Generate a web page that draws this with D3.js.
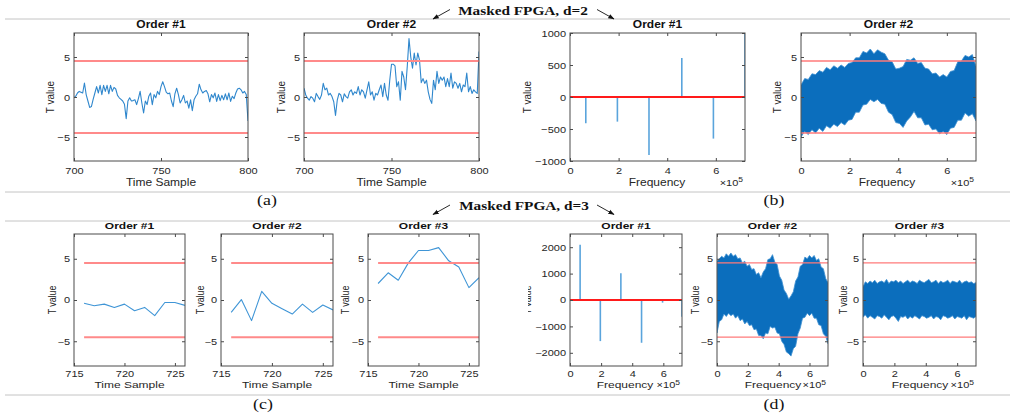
<!DOCTYPE html>
<html><head><meta charset="utf-8">
<script src="https://cdn.jsdelivr.net/npm/d3@7"></script>
<style>
body{margin:0;background:#fff}
svg{display:block}
</style>
</head><body>
<svg id="c" width="1014" height="414"></svg>
<script>
// ---------------- DATA ----------------
const timeA = d3.range(700, 801);
const tA1 = [-0.1,0.1,0.5,0.7,0.6,0.5,1.75,0.3,-0.5,-1.3,
  -1.2,-0.3,0.5,1.3,0.5,1.45,0.3,1.45,0.7,1.45,
  0.4,1.45,0.7,1.2,1.0,0.2,-0.1,-0.3,-0.5,-0.9,
  -2.7,-0.5,-0.1,-0.5,-0.45,-0.35,-0.95,-0.2,0.7,-0.75,
  -2.0,-0.5,-0.95,0.1,0.5,-0.95,0.3,-0.1,0.7,0.3,
  1.3,1.9,1.3,0.6,0.4,0.5,-0.5,-1.2,0.4,1.1,
  0.3,-0.75,-0.35,0.2,-0.75,-0.5,-1.4,-0.35,-1.7,-0.35,
  0.1,0.4,1.6,0.9,0.5,0.7,0.8,0.4,-0.6,0.3,
  -0.1,0.5,-0.55,0.3,-0.45,0.2,-0.35,0.4,-0.35,0.5,
  -0.55,0.1,-0.2,0.5,1.0,1.1,0.9,0.5,0.7,0.3,
  -3.0];
const tA2 = [1.1,0.25,-0.15,-0.4,0.05,-0.15,-0.6,0.45,0.05,-0.3,
  0.25,1.7,0.9,1.1,0.25,0.45,0.05,-0.6,-2.3,-0.4,
  0.45,0.25,-0.6,0.4,0.05,-0.15,0.65,0.9,0.25,0.65,
  0.45,1.3,0.25,0.9,0.65,-0.15,0.9,1.9,0.25,0.65,
  -0.4,0.45,0.25,0.9,1.5,0.05,1.7,0.25,-0.4,2.1,
  4.1,4.1,3.9,1.3,1.9,-0.4,3.2,2.5,0.9,3.8,
  7.3,5.0,3.6,5.5,4.0,5.5,4.6,1.8,2.3,1.7,
  2.1,0.65,-0.3,-0.8,2.1,0.9,3.2,1.7,2.5,2.1,
  2.5,1.3,2.3,1.3,3.0,1.1,1.9,1.7,1.1,1.7,
  0.65,1.5,1.3,3.0,0.65,1.3,0.45,0.9,0.65,0.45,
  5.7];

const timeC = [716,717,718,719,720,721,722,723,724,725,726];
const tC1 = [-0.4,-0.7,-0.5,-0.9,-0.5,-1.3,-0.9,-1.9,-0.3,-0.3,-0.65];
const tC2 = [-1.5,0.05,-2.5,1.05,-0.4,-1.05,-1.7,-0.5,-1.5,-0.6,-1.2];
const tC3 = [2.0,3.3,2.4,4.5,6.0,6.0,6.35,4.75,4.0,1.5,2.7];

// frequencies in units of 1e5
const fB1 = [0.65,1.95,3.25,4.6,5.9,7.2];
const vB1 = [-410,-385,-905,610,-650,1000];
const fD1 = [0.65,1.95,3.27,4.6,5.95,7.2];
const vD1 = [2090,-1557,1013,-1620,-100,-633];

const bandFreq = [0,0.15,0.3,0.45,0.6,0.75,0.9,1.05,1.2,1.35,1.5,1.65,1.8,1.95,2.1,2.25,2.4,2.55,2.7,2.85,
  3.0,3.15,3.3,3.45,3.6,3.75,3.9,4.05,4.2,4.35,4.5,4.65,4.8,4.95,5.1,5.25,5.4,5.55,5.7,5.85,
  6.0,6.15,6.3,6.45,6.6,6.75,6.9,7.05,7.2];
const hiB2 = [1.5,2.3,2.2,2.9,2.8,3.3,3.1,3.7,3.4,3.9,3.6,4.0,3.7,4.2,4.3,4.9,4.9,5.7,5.5,6.0,
  5.4,5.9,5.6,5.4,4.6,4.4,3.5,3.6,3.8,4.7,4.6,4.9,4.2,4.3,3.6,3.5,2.9,3.0,2.5,2.8,
  2.5,3.2,3.3,4.4,4.5,5.2,5.0,5.3,3.8];
const loB2 = [-5.0,-4.3,-4.7,-4.1,-4.5,-3.9,-4.3,-3.6,-3.9,-3.4,-3.7,-3.2,-3.5,-2.9,-2.8,-1.9,-1.9,-1.0,-0.9,-0.3,
  -0.6,-0.3,-0.8,-0.9,-1.9,-2.2,-3.2,-3.3,-3.8,-3.0,-2.5,-1.8,-2.6,-2.6,-3.5,-3.4,-4.1,-4.0,-4.6,-4.3,
  -4.7,-3.9,-3.8,-2.9,-2.9,-2.0,-2.4,-2.1,-3.0];
const hiD2 = [4.7,5.0,5.3,5.1,5.6,5.3,5.7,5.3,5.5,5.0,5.1,4.5,4.7,4.1,4.3,3.7,3.8,3.1,3.3,2.7,
  3.4,3.8,4.9,5.0,5.5,4.6,4.3,2.9,2.4,1.2,0.8,0.1,0.5,1.0,2.3,2.8,4.1,4.3,5.2,5.0,
  5.4,5.1,5.4,4.8,5.0,4.0,3.8,2.6,2.1];
const loD2 = [-4.0,-2.6,-2.4,-1.7,-2.0,-1.6,-1.9,-1.7,-2.2,-1.9,-2.5,-2.3,-2.9,-2.6,-3.1,-3.0,-3.6,-3.5,-4.3,-4.3,
  -4.7,-4.0,-4.1,-3.2,-3.4,-3.3,-4.0,-4.1,-5.0,-5.4,-6.3,-6.5,-6.8,-5.9,-5.6,-4.1,-3.4,-2.2,-2.1,-1.6,
  -1.9,-1.6,-2.2,-2.2,-3.0,-3.1,-4.1,-4.4,-5.3];
const hiD3 = [1.6,2.2,2.0,2.3,2.1,2.4,2.0,2.2,2.3,2.1,2.5,2.0,2.3,2.2,2.4,2.1,2.3,2.0,2.2,2.4,
  2.1,2.3,2.2,2.0,2.4,2.2,2.1,2.3,2.5,2.1,2.2,2.4,2.0,2.3,2.1,2.2,2.4,2.0,2.3,2.2,
  2.1,2.4,2.0,2.2,2.3,2.1,2.2,2.0,2.1];
const loD3 = [-2.1,-1.8,-2.2,-1.9,-2.1,-2.3,-1.9,-2.0,-2.2,-1.8,-2.1,-2.4,-2.0,-1.9,-2.2,-2.6,-2.0,-2.1,-1.9,-2.3,
  -2.0,-2.2,-1.9,-2.1,-2.3,-1.9,-2.0,-2.2,-2.1,-1.9,-2.3,-2.0,-2.1,-2.4,-1.9,-2.0,-2.2,-2.1,-1.9,-2.3,
  -2.0,-2.1,-2.2,-1.9,-2.4,-2.0,-2.1,-2.2,-2.0];

const thresholds = [4.5, -4.5];
const tTicks = [-5, 0, 5];
const xTicksA = [700, 750, 800];
const xTicksC = [715, 720, 725];
const fTicks = [0, 2e5, 4e5, 6e5];
const yTicksB1 = [-1000, -500, 0, 500, 1000];
const yTicksD1 = [-2000, -1000, 0, 1000, 2000];

// ---------------- DRAW ----------------
const svg = d3.select("#c");
const defs = svg.append("defs");
defs.append("marker").attr("id","arr").attr("viewBox","0 0 10 10").attr("refX",9).attr("refY",5)
  .attr("markerWidth",7).attr("markerHeight",7).attr("orient","auto")
  .append("path").attr("d","M0,1.5L10,5L0,8.5Z").attr("fill","#111");

const SANS = "Liberation Sans, Arial, Helvetica, sans-serif";
const SERIF = "Liberation Serif, Times New Roman, serif";
const TXT = "#262626";
const AXC = "#4a4a4a";
let cid = 0;

// separators
[19, 192, 221, 395].forEach(yy => {
  svg.append("line").attr("x1",5).attr("x2",1010).attr("y1",yy).attr("y2",yy)
    .attr("stroke","#c4c4c4").attr("stroke-width",1);
});

function header(txt, cx, by, ay) {
  svg.append("text").attr("transform", `translate(${cx},${by}) scale(1.02,0.9)`).attr("text-anchor","middle")
    .attr("font-family", SERIF).attr("font-weight","bold").attr("font-size",15).attr("fill","#111").text(txt);
  svg.append("line").attr("x1",450).attr("y1",ay).attr("x2",433).attr("y2",ay+9.5)
    .attr("stroke","#111").attr("stroke-width",0.9).attr("marker-end","url(#arr)");
  svg.append("line").attr("x1",597).attr("y1",ay).attr("x2",614).attr("y2",ay+9.5)
    .attr("stroke","#111").attr("stroke-width",0.9).attr("marker-end","url(#arr)");
}
header("Masked FPGA, d=2", 523, 15, 9.5);
header("Masked FPGA, d=3", 524, 210, 205);

function subLabel(t, cx, by) {
  svg.append("text").attr("transform", `translate(${cx},${by}) scale(1.05,0.92)`).attr("text-anchor","middle")
    .attr("font-family",SERIF).attr("font-size",17).attr("fill","#111").text(t);
}
subLabel("(a)", 267, 205);
subLabel("(b)", 774, 205);
subLabel("(c)", 263, 409);
subLabel("(d)", 774, 409);

function panel(o) {
  const sy = o.sy;
  const x = d3.scaleLinear().domain(o.xd).range([o.l, o.r]);
  const y = d3.scaleLinear().domain(o.yd).range([o.b, o.t]);
  const id = "clip" + (cid++);
  defs.append("clipPath").attr("id", id).append("rect")
    .attr("x", o.l).attr("y", o.t).attr("width", o.r - o.l).attr("height", o.b - o.t);
  const g = svg.append("g");
  const pg = g.append("g").attr("clip-path", `url(#${id})`);

  if (o.band) {
    const area = d3.area()
      .x((d, i) => x(o.band.f[i] * 1e5))
      .y0((d, i) => y(o.band.lo[i]))
      .y1((d, i) => y(o.band.hi[i]));
    pg.append("path").datum(o.band.f).attr("d", area)
      .attr("fill", "#0b6ebd").attr("stroke", "#3f90d2").attr("stroke-width", 0.8);
  }
  if (o.line) {
    const ln = d3.line().x((d, i) => x(o.line.x[i])).y(d => y(d));
    pg.append("path").datum(o.line.y).attr("d", ln).attr("fill", "none")
      .attr("stroke", o.line.color || "#2f87cd").attr("stroke-width", 1.1).attr("stroke-linejoin","round");
  }
  if (o.stems) {
    pg.selectAll("line.stem").data(o.stems.v).join("line").attr("class","stem")
      .attr("x1", (d, i) => x(o.stems.f[i] * 1e5)).attr("x2", (d, i) => x(o.stems.f[i] * 1e5))
      .attr("y1", y(0)).attr("y2", d => y(d))
      .attr("stroke", "#5aa4dc").attr("stroke-width", 1.6);
  }
  if (o.thr) {
    pg.selectAll("line.thr").data(o.thr.vals).join("line").attr("class","thr")
      .attr("x1", x(o.thr.x0)).attr("x2", x(o.thr.x1))
      .attr("y1", d => y(d)).attr("y2", d => y(d))
      .attr("stroke", o.thr.color).attr("stroke-width", o.thr.w);
  }

  // axes (MATLAB style: ticks inside on all four sides)
  const style = s => {
    s.select(".domain").remove();
    s.attr("font-family", SANS).attr("font-size", 11).attr("color", AXC);
    s.selectAll("text").attr("fill", TXT).attr("transform", `scale(1,${sy})`);
  };
  g.append("g").attr("transform", `translate(0,${o.b})`)
    .call(d3.axisBottom(x).tickValues(o.xt).tickFormat(o.xf || d3.format("d"))
      .tickSizeInner(-3).tickSizeOuter(0).tickPadding(o.xpad)).call(style);
  g.append("g").attr("transform", `translate(0,${o.t})`)
    .call(d3.axisTop(x).tickValues(o.xt).tickFormat("").tickSizeInner(-3).tickSizeOuter(0)).call(style);
  g.append("g").attr("transform", `translate(${o.l},0)`)
    .call(d3.axisLeft(y).tickValues(o.yt).tickFormat(d3.format("d"))
      .tickSizeInner(-3).tickSizeOuter(0).tickPadding(4)).call(style);
  g.append("g").attr("transform", `translate(${o.r},0)`)
    .call(d3.axisRight(y).tickValues(o.yt).tickFormat("").tickSizeInner(-3).tickSizeOuter(0)).call(style);
  g.append("rect").attr("x", o.l).attr("y", o.t).attr("width", o.r - o.l).attr("height", o.b - o.t)
    .attr("fill", "none").attr("stroke", AXC).attr("stroke-width", 1);

  // title
  g.append("text").attr("transform", `translate(${(o.l + o.r) / 2},${o.t - 5}) scale(1,${sy})`)
    .attr("text-anchor", "middle")
    .attr("font-family", SANS).attr("font-weight", "bold").attr("font-size", 12).attr("fill", "#111")
    .text(o.title);
  // x label
  g.append("text").attr("transform", `translate(${o.xlx || (o.l + o.r) / 2},${o.b + o.xlOff}) scale(1,${sy})`)
    .attr("text-anchor", "middle")
    .attr("font-family", SANS).attr("font-size", 12).attr("fill", TXT).text(o.xlabel);
  if (o.exp) {
    const t = g.append("text").attr("transform", `translate(${o.r - 2},${o.b + o.xlOff}) scale(1,${sy})`)
      .attr("text-anchor", "end")
      .attr("font-family", SANS).attr("font-size", 11).attr("fill", TXT);
    t.append("tspan").text("\u00d710");
    t.append("tspan").attr("dy", -4).attr("font-size", 8.5).text("5");
  }
  // y label
  const ylg = g.append("g");
  ylg.append("text").attr("transform", `translate(${o.ylx},${(o.t + o.b) / 2}) scale(1,${sy}) rotate(-90)`)
    .attr("text-anchor", "middle").attr("dominant-baseline", "central")
    .attr("font-family", SANS).attr("font-size", 11).attr("fill", TXT).text("T value");
  if (o.ylClip) {
    const cid2 = "clip" + (cid++);
    defs.append("clipPath").attr("id", cid2).append("rect")
      .attr("x", o.ylClip).attr("y", o.t).attr("width", 20).attr("height", o.b - o.t);
    ylg.attr("clip-path", `url(#${cid2})`);
  }
}

const fmtF = d => d3.format("d")(d / 1e5);
const redA = {vals: thresholds, x0: 700, x1: 800, color: "#ff8a8a", w: 2};
const redC = {vals: thresholds, x0: 716, x1: 726, color: "#ff8a8a", w: 2};
const redF = {vals: thresholds, x0: 0, x1: 7.2e5, color: "#ff7a7a", w: 1.3};
const zeroF = {vals: [0], x0: 0, x1: 7.2e5, color: "#ff1a1a", w: 2};

// top row
const TOP = {t:33, b:161, sy:0.9, xpad:7, xlOff:25};
panel({...TOP, l:74, r:248, xd:[700,800], yd:[-8,8], xt:xTicksA, yt:tTicks,
  title:"Order #1", xlabel:"Time Sample", ylx:50, line:{x:timeA, y:tA1}, thr:redA});
panel({...TOP, l:304, r:479, xd:[700,800], yd:[-8,8], xt:xTicksA, yt:tTicks,
  title:"Order #2", xlabel:"Time Sample", ylx:281, line:{x:timeA, y:tA2}, thr:redA});
panel({...TOP, l:570, r:745, xd:[0,7.2e5], yd:[-1000,1000], xt:fTicks, xf:fmtF, yt:yTicksB1,
  xlx:657, title:"Order #1", xlabel:"Frequency", ylx:527, stems:{f:fB1, v:vB1}, thr:zeroF, exp:true});
panel({...TOP, l:801, r:976, xd:[0,7.2e5], yd:[-8,8], xt:fTicks, xf:fmtF, yt:tTicks,
  xlx:887, title:"Order #2", xlabel:"Frequency", ylx:777, band:{f:bandFreq, hi:hiB2, lo:loB2}, thr:redF, exp:true});

// bottom row
const BOT = {t:234, b:366, sy:0.8, xpad:6.3, xlOff:22};
panel({...BOT, l:74, r:185, xd:[715,726], yd:[-8,8], xt:xTicksC, yt:tTicks,
  title:"Order #1", xlabel:"Time Sample", ylx:52, line:{x:timeC, y:tC1, color:"#3f95d6"}, thr:redC});
panel({...BOT, l:221, r:333, xd:[715,726], yd:[-8,8], xt:xTicksC, yt:tTicks,
  title:"Order #2", xlabel:"Time Sample", ylx:200, line:{x:timeC, y:tC2, color:"#3f95d6"}, thr:redC});
panel({...BOT, l:368, r:479, xd:[715,726], yd:[-8,8], xt:xTicksC, yt:tTicks,
  title:"Order #3", xlabel:"Time Sample", ylx:345, line:{x:timeC, y:tC3, color:"#3f95d6"}, thr:redC});
panel({...BOT, l:570, r:682, xd:[0,7.2e5], yd:[-2500,2500], xt:fTicks, xf:fmtF, yt:yTicksD1,
  xlx:625, title:"Order #1", xlabel:"Frequency", ylx:527, ylClip:528, stems:{f:fD1, v:vD1}, thr:zeroF, exp:true});
panel({...BOT, l:717, r:828, xd:[0,7.2e5], yd:[-8,8], xt:fTicks, xf:fmtF, yt:tTicks,
  xlx:773, title:"Order #2", xlabel:"Frequency", ylx:695, band:{f:bandFreq, hi:hiD2, lo:loD2}, thr:redF, exp:true});
panel({...BOT, l:863, r:976, xd:[0,7.2e5], yd:[-8,8], xt:fTicks, xf:fmtF, yt:tTicks,
  xlx:920, title:"Order #3", xlabel:"Frequency", ylx:843, band:{f:bandFreq, hi:hiD3, lo:loD3}, thr:redF, exp:true});
</script>
</body></html>
